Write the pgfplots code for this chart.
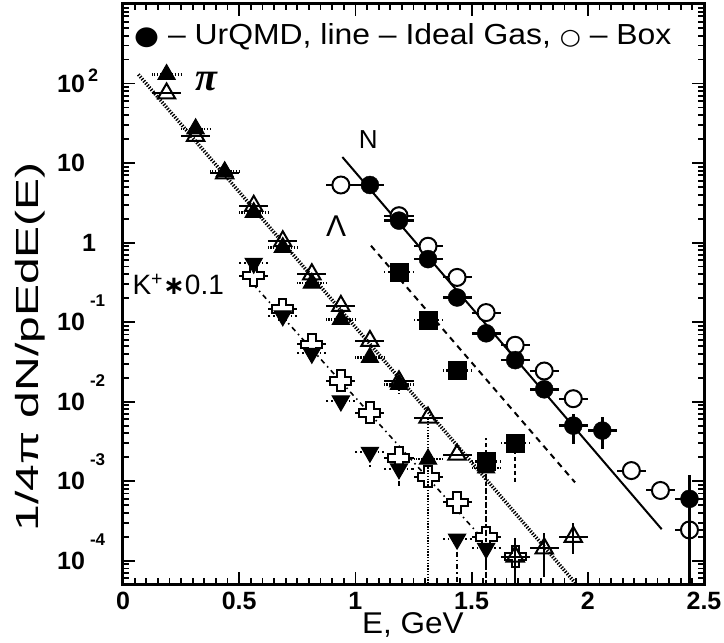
\documentclass[border=0pt]{standalone}
\usepackage{fontspec}
\setmainfont{Liberation Sans}
\newfontfamily\dejavu{DejaVu Sans}
\newfontfamily\serifgr{Liberation Serif}
\usepackage{pgfplots}
\pgfplotsset{compat=1.18}
\newcommand{\fs}[1]{\fontsize{#1}{#1}\selectfont}
\newcommand{\ex}[2]{\kern#2\raisebox{24bp}[0pt][0pt]{\fs{17bp}\bfseries #1}}

\pgfdeclareplotmark{ocross}{%
 \pgfpathmoveto{\pgfqpoint{-0.35\pgfplotmarksize}{\pgfplotmarksize}}%
 \pgfpathlineto{\pgfqpoint{0.35\pgfplotmarksize}{\pgfplotmarksize}}%
 \pgfpathlineto{\pgfqpoint{0.35\pgfplotmarksize}{0.35\pgfplotmarksize}}%
 \pgfpathlineto{\pgfqpoint{\pgfplotmarksize}{0.35\pgfplotmarksize}}%
 \pgfpathlineto{\pgfqpoint{\pgfplotmarksize}{-0.35\pgfplotmarksize}}%
 \pgfpathlineto{\pgfqpoint{0.35\pgfplotmarksize}{-0.35\pgfplotmarksize}}%
 \pgfpathlineto{\pgfqpoint{0.35\pgfplotmarksize}{-\pgfplotmarksize}}%
 \pgfpathlineto{\pgfqpoint{-0.35\pgfplotmarksize}{-\pgfplotmarksize}}%
 \pgfpathlineto{\pgfqpoint{-0.35\pgfplotmarksize}{-0.35\pgfplotmarksize}}%
 \pgfpathlineto{\pgfqpoint{-\pgfplotmarksize}{-0.35\pgfplotmarksize}}%
 \pgfpathlineto{\pgfqpoint{-\pgfplotmarksize}{0.35\pgfplotmarksize}}%
 \pgfpathlineto{\pgfqpoint{-0.35\pgfplotmarksize}{0.35\pgfplotmarksize}}%
 \pgfpathclose
 \pgfusepathqfillstroke
}

\pgfplotstableread{
x y ep em
0.1875 130 0 0
0.3125 27 0 0
0.4375 7.8 0 0
0.5625 2.4 0 0
0.6875 0.87 0 0
0.8125 0.31 0 0
0.9375 0.108 0 0
1.0625 0.036 0 0
1.1875 0.0165 0.002 0.004
1.3125 0.0019 0.0044 0.00189
1.5625 0.00147 0 0.00146
}\pionU
\pgfplotstableread{
x y ep em
0.1875 75 0 0
0.3125 22 0 0
0.4375 7.4 0 0
0.5625 2.9 0 0
0.6875 1.04 0 0
0.8125 0.40 0 0
0.9375 0.16 0 0
1.0625 0.058 0 0
1.1875 0.018 0 0
1.3125 0.0063 0 0
1.4375 0.00216 0 0
1.6875 0.000113 0.00008 0.0001
1.8125 0.000143 0.00008 0.00008
1.9375 0.0002 0.0001 0.00008
}\pionB
\pgfplotstableread{
x y ep em
0.5625 0.55 0 0
0.6875 0.12 0 0
0.8125 0.0406 0 0
0.9375 0.0102 0 0
1.0625 0.00231 0 0.0008
1.1875 0.00143 0 0.0006
1.4375 0.000187 0 0.000186
1.5625 0.000143 0 0.000142
}\kaonU
\pgfplotstableread{
x y ep em
0.5625 0.383 0 0
0.6875 0.146 0 0
0.8125 0.0526 0 0
0.9375 0.0182 0 0
1.0625 0.00724 0 0
1.1875 0.00196 0 0
1.3125 0.00113 0 0
1.4375 0.00054 0 0
1.5625 0.000198 0 0
1.6875 0.000113 0 0
}\kaonB
\pgfplotstableread{
x y ep em
1.1875 0.43 0 0
1.3125 0.106 0 0
1.4375 0.0247 0 0
1.5625 0.00178 0.0017 0.00177
1.6875 0.00303 0.0007 0.0021
}\lamU
\pgfplotstableread{
x y ep em
1.0625 5.3 0 0
1.1875 1.89 0 0
1.3125 0.62 0 0
1.4375 0.204 0 0
1.5625 0.0724 0 0
1.6875 0.0333 0 0
1.8125 0.0143 0 0
1.9375 0.0050 0.0019 0.0021
2.0625 0.00433 0.0020 0.0018
2.4375 0.0006 0.0006 0.000599
}\nucU
\pgfplotstableread{
x y ep em
0.9375 5.3 0 0
1.1875 2.18 0 0
1.3125 0.90 0 0
1.4375 0.365 0 0
1.5625 0.132 0 0
1.6875 0.0512 0 0
1.8125 0.0243 0 0
1.9375 0.0109 0 0
2.1875 0.00136 0 0
2.3125 0.000765 0 0
2.4375 0.000244 0 0.000243
}\nucB

\begin{document}
\begin{tikzpicture}
\path[use as bounding box] (-123bp,-59bp) rectangle (601bp,584bp);
\begin{axis}[
  at={(0,0)}, anchor=south west,
  scale only axis, width=581bp, height=580bp,
  xmin=0, xmax=2.5, ymode=log, ymin=5.1e-5, ymax=1000,
  axis line style={line width=3bp},
  every tick/.style={line width=1.8bp, black},
  major tick length=12bp, minor tick length=6bp,
  tick align=inside,
  xtick={0,0.5,1,1.5,2,2.5},
  xticklabels={0,0.5,1,1.5,2,2.5},
  minor x tick num=9,
  ytick={1e-4,1e-3,1e-2,1e-1,1,10,100,1000},
  yticklabels={
    {10\ex{-4}{5bp}},{10\ex{-3}{5bp}},{10\ex{-2}{5bp}},{10\ex{-1}{5bp}},
    {\hspace*{25bp}1},{10},{10\kern3bp\raisebox{11bp}[0pt][0pt]{\fs{18bp}\bfseries 2}},{}},
  minor ytick={6e-5,7e-5,8e-5,9e-5,
    2e-4,3e-4,4e-4,5e-4,6e-4,7e-4,8e-4,9e-4,
    2e-3,3e-3,4e-3,5e-3,6e-3,7e-3,8e-3,9e-3,
    0.02,0.03,0.04,0.05,0.06,0.07,0.08,0.09,
    0.2,0.3,0.4,0.5,0.6,0.7,0.8,0.9,
    2,3,4,5,6,7,8,9,20,30,40,50,60,70,80,90,
    200,300,400,500,600,700,800,900},
  xticklabel style={anchor=north, yshift=-8bp, inner sep=0pt, font=\fs{25bp}\bfseries},
  yticklabel style={anchor=west, xshift=-66bp, inner sep=0pt, font=\fs{25bp}\bfseries},
  clip mode=individual,
]
% lines
\addplot[line width=3.5bp, dash pattern=on 1.3bp off 1.5bp, forget plot] coordinates {(0.066,130) (1.96,4.7e-5)};
\addplot[line width=1.6bp, dash pattern=on 5bp off 4bp on 1.5bp off 4bp] coordinates {(0.56,0.30) (1.54,2.0e-4)};
\addplot[line width=2bp, dash pattern=on 6bp off 5bp] coordinates {(1.067,0.914) (1.945,9.66e-4)};
\addplot[line width=2bp] coordinates {(0.944,11.9) (2.318,2.49e-4)};

% K+ box (open crosses)
\addplot[only marks, mark=ocross, mark size=10.5bp, mark options={fill=white, draw=black, line width=2bp},
  error bars/.cd, x dir=both, x fixed=0.0625, y dir=both, y explicit, error mark=none,
  error bar style={line width=2bp}]
  table[x=x, y=y, y error plus=ep, y error minus=em] {\kaonB};
% K+ UrQMD (filled down triangles)
\addplot[only marks, mark=triangle*, mark size=10bp, mark options={fill=black, draw=black, rotate=180, line width=1bp},
  error bars/.cd, x dir=both, x fixed=0.0625, y dir=both, y explicit, error mark=none,
  error bar style={line width=2bp, dash pattern=on 5bp off 3bp on 1.5bp off 3bp}]
  table[x=x, y=y, y error plus=ep, y error minus=em] {\kaonU};
% pi box (open triangles)
\addplot[only marks, mark=triangle, mark size=10bp, mark options={fill=white, draw=black, line width=2bp},
  error bars/.cd, x dir=both, x fixed=0.0625, y dir=both, y explicit, error mark=none,
  error bar style={line width=2bp}]
  table[x=x, y=y, y error plus=ep, y error minus=em] {\pionB};
% pi UrQMD (filled triangles)
\addplot[only marks, mark=triangle*, mark size=10bp, mark options={fill=black, draw=black, line width=1bp},
  error bars/.cd, x dir=both, x fixed=0.0625, y dir=both, y explicit, error mark=none,
  error bar style={line width=2.5bp, dash pattern=on 1.3bp off 1.5bp}]
  table[x=x, y=y, y error plus=ep, y error minus=em] {\pionU};
% Lambda UrQMD (filled squares)
\addplot[only marks, mark=square*, mark size=9bp, mark options={fill=black, draw=black},
  error bars/.cd, x dir=both, x fixed=0.0625, y dir=both, y explicit, error mark=none,
  error bar style={line width=2.5bp, dash pattern=on 4bp off 3bp}]
  table[x=x, y=y, y error plus=ep, y error minus=em] {\lamU};
% N box (open circles)
\addplot[only marks, mark=*, mark size=8.5bp, mark options={fill=white, draw=black, line width=2bp},
  error bars/.cd, x dir=both, x fixed=0.0625, y dir=both, y explicit, error mark=none,
  error bar style={line width=2bp}]
  table[x=x, y=y, y error plus=ep, y error minus=em] {\nucB};
% N UrQMD (filled circles)
\addplot[only marks, mark=*, mark size=9bp, mark options={fill=black, draw=black},
  error bars/.cd, x dir=both, x fixed=0.0625, y dir=both, y explicit, error mark=none,
  error bar style={line width=2.5bp}]
  table[x=x, y=y, y error plus=ep, y error minus=em] {\nucU};

% annotations
\node[anchor=west, inner sep=0pt, font=\fs{29bp}] at (rel axis cs:0.019,0.943)
  {\scalebox{1.1}[1]{{\dejavu\fs{26bp}●} – UrQMD, line – Ideal Gas, {\dejavu\fs{22bp}○} – Box}};
\node[inner sep=0pt, font=\fs{40bp}\serifgr\bfseries\itshape] at (rel axis cs:0.143,0.867) {π};
\node[inner sep=0pt, font=\fs{26bp}] at (rel axis cs:0.422,0.767) {N};
\node[inner sep=0pt, font=\fs{30bp}] at (rel axis cs:0.367,0.617) {Λ};
\node[inner sep=0pt, font=\fs{28bp}] at (rel axis cs:0.095,0.516) {K\textsuperscript{+}{\dejavu\bfseries\fs{26bp}∗}0.1};
\node[rotate=90, anchor=base, inner sep=0pt, font=\fs{32bp}] at (rel axis cs:-0.146,0.409)
  {\scalebox{1.5}[1]{1/4π dN/pEdE(E)}};
\node[anchor=base, inner sep=0pt, font=\fs{30bp}] at (rel axis cs:0.499,-0.0845) {\scalebox{1.05}[1]{E, GeV}};
\end{axis}
\end{tikzpicture}
\end{document}
